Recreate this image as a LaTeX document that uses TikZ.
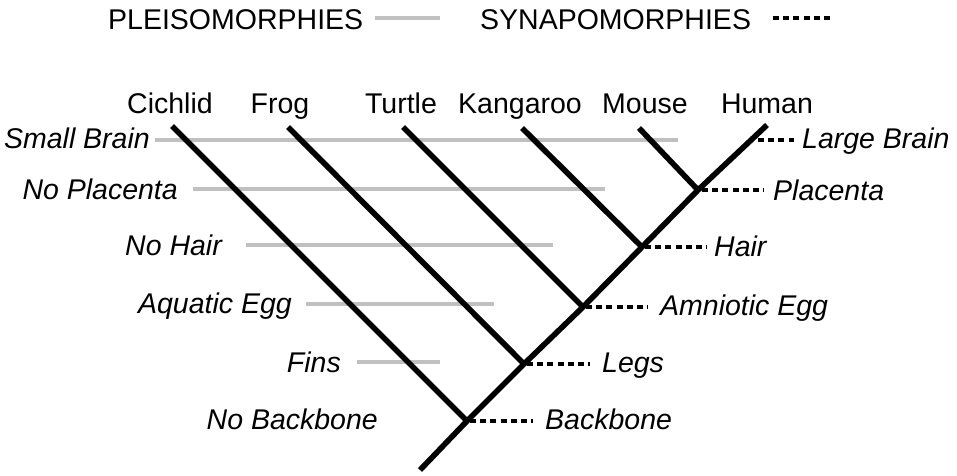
\documentclass[tikz,border=0pt]{standalone}
\usepackage{fontspec}
\setmainfont{Liberation Sans}
\definecolor{pgrey}{RGB}{192,192,192}
\begin{document}
\begin{tikzpicture}[x=1pt,y=-1pt,
  tree/.style={line width=5.6pt},
  plei/.style={line width=3.3pt, draw=pgrey},
  syna/.style={line width=3.5pt, dash pattern=on 6pt off 4.2pt},
  lab/.style={font=\fontsize{28.5}{32}\selectfont, inner sep=0pt},
  ital/.style={inner sep=0pt, font=\fontsize{28.5}{32}\selectfont\itshape}]
\useasboundingbox (0,0) rectangle (957,475);

% legend
\node[lab, anchor=base west] (lp) at (108,29) {PLEISOMORPHIES};
\coordinate (lpa) at (375,18); \coordinate (lpb) at (440,18);
\draw[plei] (lpa) -- (lpb);
\node[lab, anchor=base west] (ls) at (480,29) {SYNAPOMORPHIES};
\coordinate (lsa) at (773,18); \coordinate (lsb) at (834,18);
\draw[syna] (lsa) -- (lsb);

% taxa names
\node[lab, anchor=base] (tC) at (170,113) {Cichlid};
\node[lab, anchor=base] (tF) at (280,113) {Frog};
\node[lab, anchor=base] (tT) at (401,113) {Turtle};
\node[lab, anchor=base] (tK) at (520,113) {Kangaroo};
\node[lab, anchor=base] (tM) at (645,113) {Mouse};
\node[lab, anchor=base] (tH) at (767,113) {Human};

% tree coordinates
\coordinate (root) at (420,470);
\coordinate (n1) at (467,421);
\coordinate (n2) at (524,364);
\coordinate (n3) at (583,307);
\coordinate (n4) at (642,247);
\coordinate (n5) at (698,190);
\coordinate (hT) at (767,125);
\coordinate (cT) at (172,126);
\coordinate (fT) at (288,127);
\coordinate (tuT) at (403,127);
\coordinate (kT) at (522,128);
\coordinate (mT) at (639,128);

% pleisomorphies (left)
\node[ital, anchor=base east] (pSB) at (150,148) {Small Brain};
\node[ital, anchor=base east] (pNP) at (178,199) {No Placenta};
\node[ital, anchor=base east] (pNH) at (222,255) {No Hair};
\node[ital, anchor=base east] (pAE) at (292,313) {Aquatic Egg};
\node[ital, anchor=base east] (pFi) at (341,372) {Fins};
\node[ital, anchor=base east] (pNB) at (378,429) {No Backbone};

\coordinate (g1a) at (155,140); \coordinate (g1b) at (678,140);
\coordinate (g2a) at (193,189); \coordinate (g2b) at (605,189);
\coordinate (g3a) at (246,245); \coordinate (g3b) at (553,245);
\coordinate (g4a) at (306,304); \coordinate (g4b) at (494,304);
\coordinate (g5a) at (357,362); \coordinate (g5b) at (440,362);
\draw[plei] (g1a) -- (g1b);
\draw[plei] (g2a) -- (g2b);
\draw[plei] (g3a) -- (g3b);
\draw[plei] (g4a) -- (g4b);
\draw[plei] (g5a) -- (g5b);

% tree
\draw[tree] (root) -- (n1) -- (n2) -- (n3) -- (n4) -- (n5) -- (hT);
\draw[tree] (cT) -- (n1);
\draw[tree] (fT) -- (n2);
\draw[tree] (tuT) -- (n3);
\draw[tree] (kT) -- (n4);
\draw[tree] (mT) -- (n5);

% synapomorphies (right)
\node[ital, anchor=base west] (sLB) at (802,148) {Large Brain};
\node[ital, anchor=base west] (sPl) at (773,200) {Placenta};
\node[ital, anchor=base west] (sHa) at (714,256) {Hair};
\node[ital, anchor=base west] (sAE) at (660,315) {Amniotic Egg};
\node[ital, anchor=base west] (sLe) at (602,372) {Legs};
\node[ital, anchor=base west] (sBa) at (545,429) {Backbone};

\coordinate (d6a) at (758,140); \coordinate (d6b) at (794,140);
\coordinate (d5a) at (702,190); \coordinate (d5b) at (764,190);
\coordinate (d4a) at (645,247); \coordinate (d4b) at (707,247);
\coordinate (d3a) at (586,307); \coordinate (d3b) at (648,307);
\coordinate (d2a) at (527,364); \coordinate (d2b) at (590,364);
\coordinate (d1a) at (470,421); \coordinate (d1b) at (533,421);
\draw[syna] (d6a) -- (d6b);
\draw[syna] (d5a) -- (d5b);
\draw[syna] (d4a) -- (d4b);
\draw[syna] (d3a) -- (d3b);
\draw[syna] (d2a) -- (d2b);
\draw[syna] (d1a) -- (d1b);
\end{tikzpicture}
\end{document}
